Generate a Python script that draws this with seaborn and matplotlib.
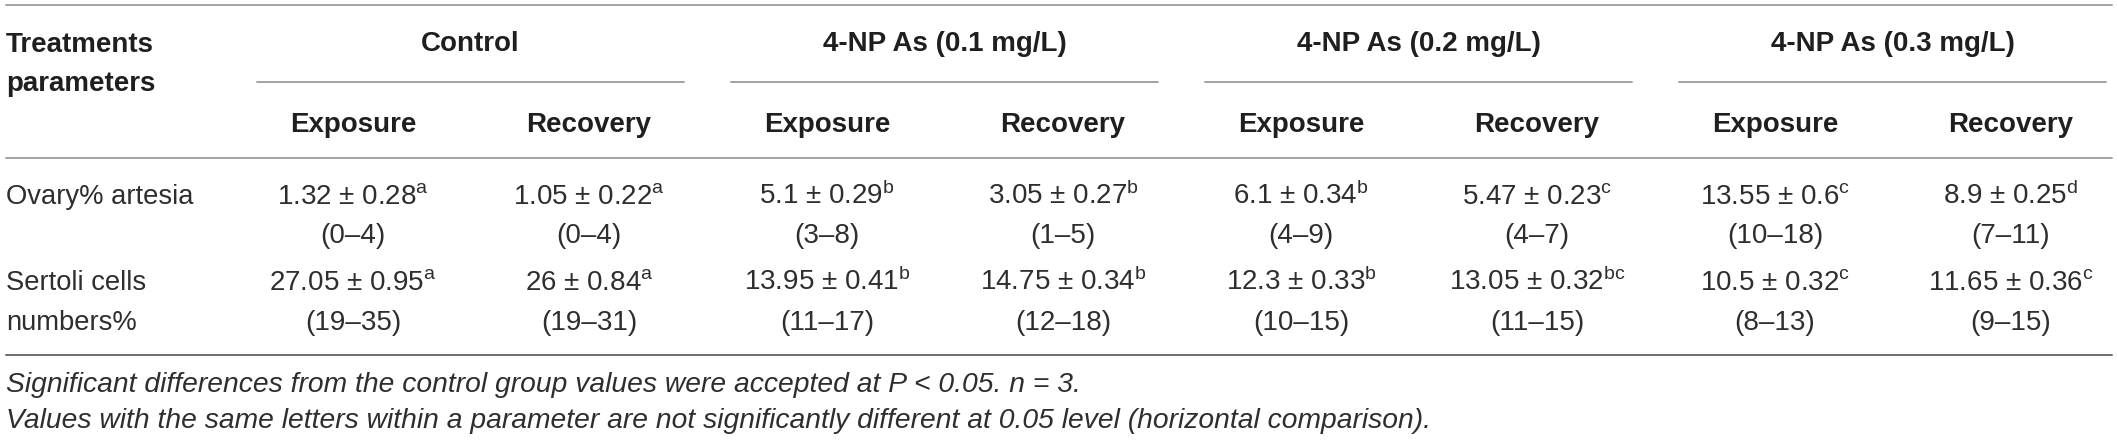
import numpy as np
import pandas as pd
import matplotlib
matplotlib.use("Agg")
import matplotlib.pyplot as plt
import seaborn as sns

groups = ["Control", "4-NP As (0.1 mg/L)", "4-NP As (0.2 mg/L)", "4-NP As (0.3 mg/L)"]
phases = ["Exposure", "Recovery"]

ovary_mean = [1.32, 1.05, 5.1, 3.05, 6.1, 5.47, 13.55, 8.9]
ovary_sd = [0.28, 0.22, 0.29, 0.27, 0.34, 0.23, 0.6, 0.25]
ovary_letter = ["a", "a", "b", "b", "b", "c", "c", "d"]
ovary_lo = [0, 0, 3, 1, 4, 4, 10, 7]
ovary_hi = [4, 4, 8, 5, 9, 7, 18, 11]

sertoli_mean = [27.05, 26, 13.95, 14.75, 12.3, 13.05, 10.5, 11.65]
sertoli_sd = [0.95, 0.84, 0.41, 0.34, 0.33, 0.32, 0.32, 0.36]
sertoli_letter = ["a", "a", "b", "b", "b", "bc", "c", "c"]
sertoli_lo = [19, 19, 11, 12, 10, 11, 8, 9]
sertoli_hi = [35, 31, 17, 18, 15, 15, 13, 15]

notes = [
    "Significant differences from the control group values were accepted at P < 0.05. n = 3.",
    "Values with the same letters within a parameter are not significantly different at 0.05 level (horizontal comparison).",
]

rows = []
for name, m, s, l, lo, hi in [
    ("Ovary% artesia", ovary_mean, ovary_sd, ovary_letter, ovary_lo, ovary_hi),
    ("Sertoli cells\nnumbers%", sertoli_mean, sertoli_sd, sertoli_letter, sertoli_lo, sertoli_hi),
]:
    for i in range(len(m)):
        rows.append({"param": name, "group": groups[i // 2], "phase": phases[i % 2],
                     "col": i, "mean": m[i], "sd": s[i], "letter": l[i], "lo": lo[i], "hi": hi[i]})
df = pd.DataFrame(rows)

sns.set_theme(style="white")
plt.rcParams['font.family'] = ['Liberation Sans', 'DejaVu Sans']
plt.rcParams['mathtext.fontset'] = 'custom'
plt.rcParams['mathtext.rm'] = 'Liberation Sans'
plt.rcParams['mathtext.it'] = 'Liberation Sans:italic'
plt.rcParams['mathtext.bf'] = 'Liberation Sans:bold'

fig = plt.figure(figsize=(21.17, 4.41), dpi=100)
ax = fig.add_axes([0, 0, 1, 1])
ax.set_xlim(0, 2117)
ax.set_ylim(441, 0)
ax.axis('off')

head_c = "#1f1f1f"
body_c = "#2e2e2e"
rule_c = "#a3a3a3"

# column layout (pixels)
left, right = 6, 2112
g_start, g_width, g_step = 257, 427, 474
sub_off = [96, 332]

ax.plot([left, right], [5, 5], color=rule_c, lw=1.4)
ax.plot([left, right], [158, 158], color=rule_c, lw=1.4)
ax.plot([left, right], [355, 355], color="#6e6e6e", lw=1.4)

ax.text(left, 52, "Treatments", fontsize=20, fontweight='bold', color=head_c, va='baseline')
ax.text(left, 91, "parameters", fontsize=20, fontweight='bold', color=head_c, va='baseline')

for gi, g in enumerate(groups):
    x0 = g_start + gi * g_step
    ax.text(x0 + g_width / 2, 51, g, fontsize=20, fontweight='bold', color=head_c,
            ha='center', va='baseline')
    ax.plot([x0, min(x0 + g_width, right)], [82, 82], color=rule_c, lw=1.4)
    for pi, p in enumerate(phases):
        ax.text(x0 + sub_off[pi], 132, p, fontsize=20, fontweight='bold', color=head_c,
                ha='center', va='baseline')

row_base = {"Ovary% artesia": (204, 243), "Sertoli cells\nnumbers%": (290, 330)}
for name, (yv, yr) in row_base.items():
    lines = name.split("\n")
    for k, t in enumerate(lines):
        ax.text(left, yv if k == 0 else yr, t, fontsize=19.7, color=body_c, va='baseline')

for _, r in df.iterrows():
    yv, yr = row_base[r["param"]]
    x = g_start + (r["col"] // 2) * g_step + sub_off[r["col"] % 2]
    ax.text(x, yv, "%g \u00b1 %g$^{\\mathrm{%s}}$" % (r["mean"], r["sd"], r["letter"]),
            fontsize=20, color=body_c, ha='center', va='baseline')
    ax.text(x, yr, "(%d\u2013%d)" % (r["lo"], r["hi"]),
            fontsize=20, color=body_c, ha='center', va='baseline')

ax.text(left, 392, notes[0], fontsize=20.3, style='italic', color=body_c, va='baseline')
ax.text(left, 428, notes[1], fontsize=20.3, style='italic', color=body_c, va='baseline')

fig.savefig("out.png", dpi=100)
